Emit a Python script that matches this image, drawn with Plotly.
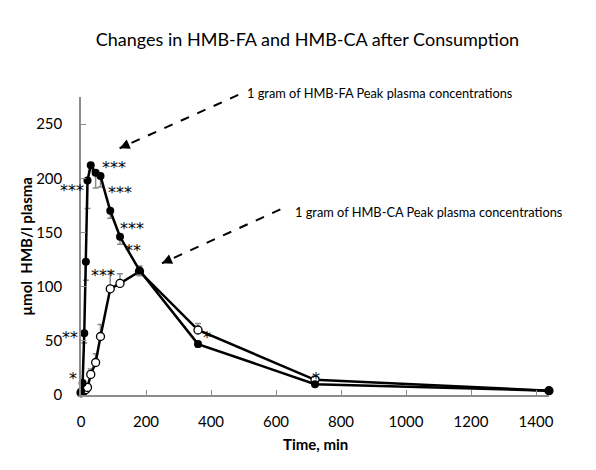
import plotly.graph_objects as go

# sampling times (min)
times = [0, 5, 10, 15, 20, 30, 45, 60, 90, 120, 180, 360, 720, 1440]

# HMB-FA (filled) and HMB-CA (open), umol/l plasma
hmb_fa = [3, 11, 57, 123, 198, 212, 205, 202, 170, 146, 115, 47, 10, 4]
hmb_fa_err = [0.5, 2, 9, 17, 26, 5, 14, 10, 7, 7, 5, 3, 2, 1]
hmb_ca = [2, 3, 4, 5, 7, 19, 30, 54, 98, 103, 114, 60, 14, 4]
hmb_ca_err = [0.5, 1, 1, 2, 3, 5, 8, 11, 16, 9, 5, 6, 3, 1]

# significance marks (time, value, text)
sig_x = [102, -27, 121, 158, 159, 67, -34, -25, 389, 724]
sig_y = [210, 189, 187, 154, 133, 110, 53, 15, 53, 15]
sig_txt = ["***", "***", "***", "***", "**", "***", "**", "*", "*", "*"]

x_ticks = [0, 200, 400, 600, 800, 1000, 1200, 1400]
y_ticks = [0, 50, 100, 150, 200, 250]
x_max = 1440
y_max = 275

font = "Lato, Open Sans, sans-serif"
grey = "#8c8c8c"

fig = go.Figure()

fig.add_trace(go.Scatter(
    x=times, y=hmb_ca, mode="lines+markers", name="HMB-CA",
    line=dict(color="black", width=2.5),
    marker=dict(symbol="circle", size=8, color="white",
                line=dict(color="black", width=1.3)),
    error_y=dict(type="data", symmetric=False, array=hmb_ca_err,
                 arrayminus=[0] * len(times), color=grey, thickness=1.5, width=3),
    cliponaxis=False))

fig.add_trace(go.Scatter(
    x=times, y=hmb_fa, mode="lines+markers", name="HMB-FA",
    line=dict(color="black", width=2.5),
    marker=dict(symbol="circle", size=8, color="black"),
    error_y=dict(type="data", symmetric=False, array=[0] * len(times),
                 arrayminus=hmb_fa_err, color=grey, thickness=1.5, width=3),
    cliponaxis=False))

# asterisks, placed in paper space so the ones left of the y axis still show
for sx, sy, st in zip(sig_x, sig_y, sig_txt):
    fig.add_annotation(xref="paper", yref="paper", x=sx / x_max, y=sy / y_max,
                       text=st, showarrow=False,
                       font=dict(family="DejaVu Sans", size=16, color="#000000"),
                       xanchor="center", yanchor="middle")

# dashed pointers with their labels (paper coords)
pointers = [
    dict(x0=0.336, y0=1.007, x1=0.0825, y1=0.828,
         tx=0.351, ty=1.014, text="1 gram of HMB-FA Peak plasma concentrations"),
    dict(x0=0.426, y0=0.623, x1=0.173, y1=0.442,
         tx=0.454, ty=0.615, text="1 gram of HMB-CA Peak plasma concentrations"),
]
for p in pointers:
    fig.add_shape(type="line", xref="paper", yref="paper",
                  x0=p["x0"], y0=p["y0"], x1=p["x1"], y1=p["y1"],
                  line=dict(color="black", width=2, dash="dash"))
    dx = (p["x0"] - p["x1"]) * 468
    dy = -(p["y0"] - p["y1"]) * 298
    n = (dx ** 2 + dy ** 2) ** 0.5
    fig.add_annotation(xref="paper", yref="paper", x=p["x1"], y=p["y1"],
                       ax=dx / n * 9, ay=dy / n * 9, text="", showarrow=True,
                       arrowhead=2, arrowsize=1, arrowwidth=2, arrowcolor="black",
                       standoff=0, startstandoff=0)
    fig.add_annotation(xref="paper", yref="paper", x=p["tx"], y=p["ty"],
                       text=p["text"], showarrow=False, xanchor="left",
                       yanchor="middle", font=dict(family=font, size=12.8, color="black"))

# axis titles
fig.add_annotation(xref="paper", yref="paper", x=0.5, y=-0.164,
                   text="<b>Time, min</b>", showarrow=False,
                   xanchor="center", yanchor="middle",
                   font=dict(family=font, size=15, color="black"))
fig.add_annotation(xref="paper", yref="paper", x=-0.118, y=0.5,
                   text="<b>µmol  HMB/l plasma</b>", showarrow=False, textangle=-90,
                   xanchor="center", yanchor="middle",
                   font=dict(family=font, size=15, color="black"))

# page body adds an 8px offset, so margins are shifted to compensate
fig.update_layout(
    width=596, height=470,
    margin=dict(l=73, r=55, t=89, b=83),
    paper_bgcolor="white", plot_bgcolor="white",
    showlegend=False,
    font=dict(family=font, color="black"),
    title=dict(text="Changes in HMB-FA and HMB-CA after Consumption",
               x=0.5025, y=0.932, xref="container", yref="container",
               xanchor="center", yanchor="middle",
               font=dict(family=font, size=18, color="black")),
    xaxis=dict(range=[0, x_max], tickvals=x_ticks, ticks="inside", ticklen=5,
               tickcolor=grey, showline=True, linecolor=grey, linewidth=1.5,
               showgrid=False, zeroline=False, tickfont=dict(size=15),
               ticklabelstandoff=12, automargin=False),
    yaxis=dict(range=[0, y_max], tickvals=y_ticks, ticks="inside", ticklen=5,
               tickcolor=grey, showline=True, linecolor=grey, linewidth=1.5,
               showgrid=False, zeroline=False, tickfont=dict(size=15),
               ticklabelstandoff=14, automargin=False),
)

fig.write_html("out.html")
